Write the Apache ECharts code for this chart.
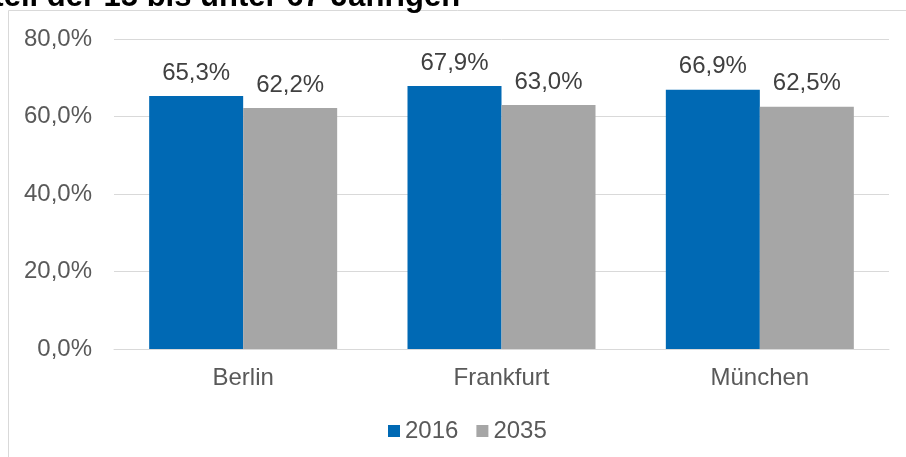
<!DOCTYPE html>
<html>
<head>
<meta charset="utf-8">
<script src="https://cdn.jsdelivr.net/npm/echarts@6/dist/echarts.min.js"></script>
<style>
  html, body { margin: 0; padding: 0; background: #fff; }
  #chart { width: 906px; height: 457px; }
</style>
</head>
<body>
<div id="chart"></div>
<script>
const cities = ["Berlin", "Frankfurt", "München"];
const values2016 = [65.3, 67.9, 66.9];
const values2035 = [62.2, 63.0, 62.5];
const seriesNames = ["2016", "2035"];

const fmt = (v) => v.toFixed(1).replace(".", ",") + "%";

const chart = echarts.init(document.getElementById("chart"));

const labelStyle = {
  show: true,
  position: "top",
  distance: 11,
  fontSize: 24,
  color: "#404040",
  fontFamily: "Liberation Sans",
  formatter: (p) => fmt(p.value),
};

const option = {
  textStyle: { fontFamily: "Liberation Sans" },
  title: {
    text: "Anteil der 15 bis unter 67-Jährigen",
    left: -53,
    top: -23,
    textStyle: { fontSize: 31, fontWeight: "bold", color: "#000", fontFamily: "Liberation Sans" },
  },
  graphic: [
    {
      type: "rect",
      shape: { x: 8.5, y: 10.5, width: 1000, height: 1000 },
      style: { fill: "none", stroke: "#d9d9d9", lineWidth: 1 },
      z: -1,
    },
  ],
  legend: {
    data: seriesNames,
    bottom: 9,
    left: 383,
    itemWidth: 12,
    itemHeight: 12,
    itemGap: 18,
    icon: "rect",
    textStyle: { fontSize: 24, color: "#595959" },
  },
  grid: { left: 114, right: 17, top: 39, bottom: 108 },
  xAxis: {
    type: "category",
    data: cities,
    axisLine: { lineStyle: { color: "#d9d9d9" } },
    axisTick: { show: false },
    axisLabel: { fontSize: 24, color: "#595959", margin: 17 },
  },
  yAxis: {
    type: "value",
    min: 0,
    max: 80,
    interval: 20,
    axisLine: { show: false },
    axisTick: { show: false },
    splitLine: { lineStyle: { color: "#d9d9d9" } },
    axisLabel: { fontSize: 24, color: "#595959", margin: 22, formatter: (v) => fmt(v) },
  },
  series: [
    {
      name: seriesNames[0],
      type: "bar",
      data: values2016,
      barWidth: 94,
      barGap: "0%",
      itemStyle: { color: "#0069b4" },
      label: labelStyle,
    },
    {
      name: seriesNames[1],
      type: "bar",
      data: values2035,
      barWidth: 94,
      barGap: "0%",
      itemStyle: { color: "#a6a6a6" },
      label: labelStyle,
    },
  ],
};

chart.setOption(option);
</script>
</body>
</html>
